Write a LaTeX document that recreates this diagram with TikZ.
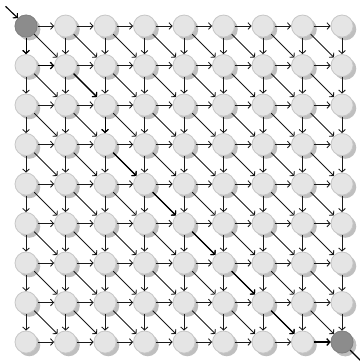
\documentclass[tikz,border=0pt]{standalone}
\usetikzlibrary{shadows,arrows.meta}
\begin{document}
\begin{tikzpicture}[>={Straight Barb[length=2.2pt,width=4.8pt]},
  cell/.style={circle,draw=black!22,fill=black!10,minimum size=0.56cm,inner sep=0pt,line width=0.6pt,
    drop shadow={shadow xshift=0.08cm,shadow yshift=-0.08cm,fill=black!25,opacity=1}},
  endcell/.style={cell,fill=black!45,draw=black!50},
  link/.style={->,black!90,line width=0.6pt},
  pathlink/.style={->,black,line width=0.8pt}]
\useasboundingbox (-0.66,0.66) rectangle (8.43,-8.48);
% grid of cells
\foreach \r in {0,...,8}
  \foreach \c in {0,...,8}
    \node[cell] (n-\r-\c) at (\c,-\r) {};
\node[endcell] (start) at (n-0-0) {};
\node[endcell] (stop) at (n-8-8) {};
% moves
\foreach \r in {0,...,8}
  \foreach \c in {0,...,7}{
    \pgfmathtruncatemacro\cnext{\c+1}
    \draw[link] (n-\r-\c) -- (n-\r-\cnext);
  }
\foreach \r in {0,...,7}
  \foreach \c in {0,...,8}{
    \pgfmathtruncatemacro\rnext{\r+1}
    \draw[link] (n-\r-\c) -- (n-\rnext-\c);
  }
\foreach \r in {0,...,7}
  \foreach \c in {0,...,7}{
    \pgfmathtruncatemacro\rnext{\r+1}
    \pgfmathtruncatemacro\cnext{\c+1}
    \draw[link] (n-\r-\c) -- (n-\rnext-\cnext);
  }
% best path
\draw[pathlink] (start) -- (n-1-0);
\draw[pathlink] (n-1-0) -- (n-1-1);
\draw[pathlink] (n-1-1) -- (n-2-2);
\draw[pathlink] (n-2-2) -- (n-3-2);
\draw[pathlink] (n-3-2) -- (n-4-3);
\draw[pathlink] (n-4-3) -- (n-5-4);
\draw[pathlink] (n-5-4) -- (n-6-5);
\draw[pathlink] (n-6-5) -- (n-7-6);
\draw[pathlink] (n-7-6) -- (n-8-7);
\draw[pathlink] (n-8-7) -- (stop);
% entry and exit
\coordinate (in) at (-0.52,0.5);
\coordinate (out) at (8.75,-8.75);
\draw[pathlink] (in) -- (start);
\draw[pathlink] (stop) -- (out);
\end{tikzpicture}
\end{document}
